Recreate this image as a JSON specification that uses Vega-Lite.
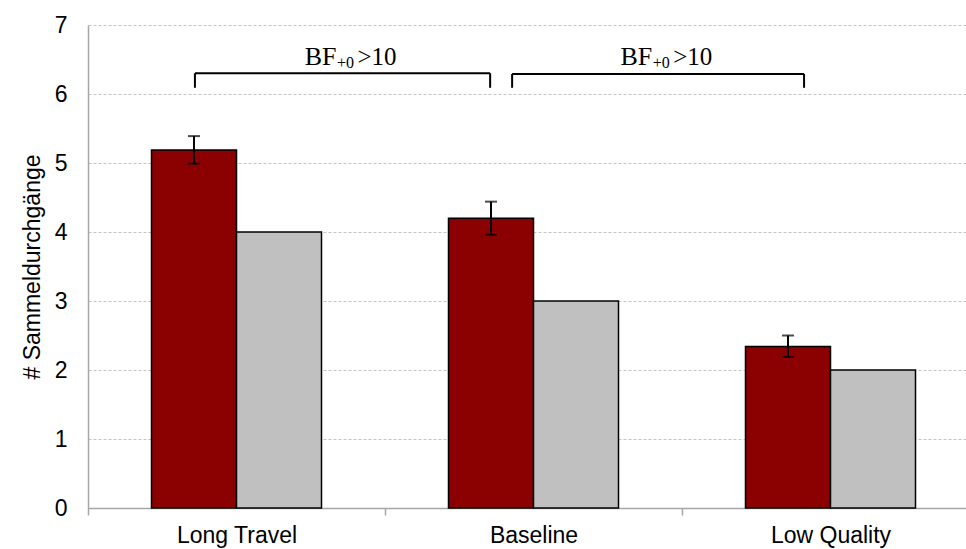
{
  "$schema": "https://vega.github.io/schema/vega-lite/v6.json",
  "width": 874,
  "height": 483,
  "autosize": {"type": "none"},
  "padding": {"left": 88, "top": 25, "right": 4, "bottom": 41},
  "config": {
    "view": {"stroke": null},
    "font": "Liberation Sans",
    "axis": {"labelFont": "Liberation Sans", "titleFont": "Liberation Sans", "labelColor": "#000000", "titleColor": "#000000", "titleFontWeight": "normal"}
  },
  "datasets": {
    "bars": [
      {"cat": "Long Travel", "grp": "a", "value": 5.19, "lo": 4.99, "hi": 5.39},
      {"cat": "Long Travel", "grp": "b", "value": 4.0},
      {"cat": "Baseline", "grp": "a", "value": 4.2, "lo": 3.96, "hi": 4.44},
      {"cat": "Baseline", "grp": "b", "value": 3.0},
      {"cat": "Low Quality", "grp": "a", "value": 2.34, "lo": 2.19, "hi": 2.5},
      {"cat": "Low Quality", "grp": "b", "value": 2.0}
    ],
    "brackets": [
      {"start": 0.36, "end": 1.354, "top": 6.3, "bottom": 6.09, "mid": 0.867, "ty": 6.42},
      {"start": 1.428, "end": 2.411, "top": 6.29, "bottom": 6.09, "mid": 1.93, "ty": 6.42}
    ]
  },
  "resolve": {"scale": {"x": "independent"}, "axis": {"x": "independent"}},
  "layer": [
    {
      "data": {"name": "bars"},
      "layer": [
        {
          "mark": {"type": "bar", "stroke": "#000000", "strokeWidth": 1.5},
          "encoding": {
            "x": {
              "field": "cat", "type": "nominal", "sort": ["Long Travel", "Baseline", "Low Quality"],
              "scale": {"range": [0, 891], "paddingInner": 0, "paddingOuter": 0},
              "axis": {"title": null, "labelAngle": 0, "labelFontSize": 23, "labelPadding": 9, "tickBand": "extent", "tickSize": 7, "tickColor": "#A6A6A6", "tickWidth": 1.5, "domainColor": "#A6A6A6", "domainWidth": 1.5, "grid": false}
            },
            "xOffset": {"field": "grp", "type": "nominal", "scale": {"paddingInner": 0, "paddingOuter": 0.747}},
            "y": {
              "field": "value", "type": "quantitative",
              "scale": {"domain": [0, 7], "nice": false},
              "axis": {"title": "# Sammeldurchgänge", "titleFontSize": 23, "titlePadding": 10, "labelFontSize": 23, "labelPadding": 21, "ticks": false, "format": "d", "values": [0, 1, 2, 3, 4, 5, 6, 7], "domainColor": "#A6A6A6", "domainWidth": 1.5, "gridColor": "#C4C4C4", "gridDash": [3, 2], "gridWidth": 1}
            },
            "color": {"field": "grp", "type": "nominal", "scale": {"domain": ["a", "b"], "range": ["#8B0000", "#C0C0C0"]}, "legend": null}
          }
        },
        {
          "transform": [{"filter": "datum.lo != null"}],
          "mark": {"type": "rule", "color": "#000000", "strokeWidth": 2},
          "encoding": {
            "x": {"field": "cat", "type": "nominal", "sort": ["Long Travel", "Baseline", "Low Quality"]},
            "xOffset": {"field": "grp", "type": "nominal"},
            "y": {"field": "lo", "type": "quantitative"},
            "y2": {"field": "hi"}
          }
        },
        {
          "transform": [{"filter": "datum.lo != null"}, {"fold": ["lo", "hi"], "as": ["end", "ev"]}],
          "mark": {"type": "tick", "color": "#000000", "thickness": 2, "size": 12, "orient": "horizontal"},
          "encoding": {
            "x": {"field": "cat", "type": "nominal", "sort": ["Long Travel", "Baseline", "Low Quality"]},
            "xOffset": {"field": "grp", "type": "nominal"},
            "y": {"field": "ev", "type": "quantitative"}
          }
        }
      ]
    },
    {
      "data": {"name": "brackets"},
      "layer": [
        {
          "mark": {"type": "rule", "color": "#000000", "strokeWidth": 2},
          "encoding": {
            "x": {"field": "start", "type": "quantitative", "scale": {"domain": [0, 3], "range": [0, 891], "nice": false, "zero": false}, "axis": null},
            "x2": {"field": "end"},
            "y": {"field": "top", "type": "quantitative"}
          }
        },
        {
          "transform": [{"fold": ["start", "end"], "as": ["side", "px"]}],
          "mark": {"type": "rule", "color": "#000000", "strokeWidth": 2},
          "encoding": {
            "x": {"field": "px", "type": "quantitative"},
            "y": {"field": "bottom", "type": "quantitative"},
            "y2": {"field": "top"}
          }
        },
        {
          "mark": {"type": "text", "font": "Liberation Serif", "fontSize": 26, "align": "right", "baseline": "alphabetic", "dx": -9, "color": "#000000"},
          "encoding": {
            "x": {"field": "mid", "type": "quantitative"},
            "y": {"field": "ty", "type": "quantitative"},
            "text": {"value": "BF"}
          }
        },
        {
          "mark": {"type": "text", "font": "Liberation Serif", "fontSize": 16, "align": "center", "baseline": "alphabetic", "dy": 3, "color": "#000000"},
          "encoding": {
            "x": {"field": "mid", "type": "quantitative"},
            "y": {"field": "ty", "type": "quantitative"},
            "text": {"value": "+0"}
          }
        },
        {
          "mark": {"type": "text", "font": "Liberation Serif", "fontSize": 25, "align": "left", "baseline": "alphabetic", "dx": 12, "color": "#000000"},
          "encoding": {
            "x": {"field": "mid", "type": "quantitative"},
            "y": {"field": "ty", "type": "quantitative"},
            "text": {"value": ">10"}
          }
        }
      ]
    }
  ]
}
